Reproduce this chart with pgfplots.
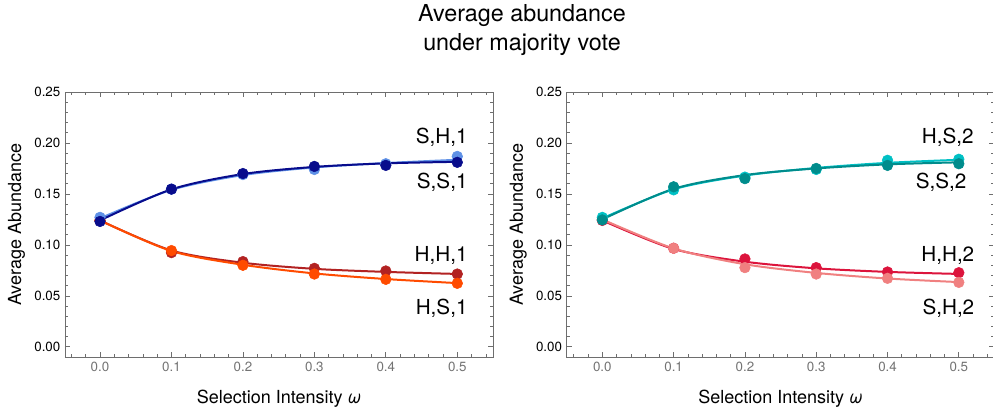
\documentclass[border=0pt]{standalone}
\usepackage{pgfplots}
\pgfplotsset{compat=1.18}
\usepackage{fontspec}
\setmainfont{TeX Gyre Heros}
\definecolor{cSH}{RGB}{95,145,230}
\definecolor{cSS}{RGB}{8,12,140}
\definecolor{cHH}{RGB}{178,34,34}
\definecolor{cHS}{RGB}{255,75,0}
\definecolor{cHS2}{RGB}{0,192,196}
\definecolor{cSS2}{RGB}{0,140,140}
\definecolor{cHH2}{RGB}{220,20,60}
\definecolor{cSH2}{RGB}{240,128,128}
\definecolor{frame}{RGB}{110,110,110}
\tikzset{lab/.style={font=\fontsize{15.5}{18}\selectfont, anchor=east, inner sep=0pt}}
\pgfplotsset{
  panel/.style={
    scale only axis,
    height=198.75pt,
    ymin=-0.01, ymax=0.25,
    xtick={-0.1,0,0.1,0.2,0.3,0.4,0.5,0.6},
    ytick={-0.05,0,0.05,0.1,0.15,0.2,0.25},
    xticklabels={,0.0,0.1,0.2,0.3,0.4,0.5,},
    yticklabels={,0.00,0.05,0.10,0.15,0.20,0.25},
    minor x tick num=4, minor y tick num=4,
    tick align=inside,
    major tick length=4pt, minor tick length=2.4pt,
    axis line style={frame, line width=0.6pt},
    every tick/.style={frame, line width=0.5pt},
    xticklabel style={font=\fontsize{10}{12}\selectfont, text=black!55},
    yticklabel style={font=\fontsize{10}{12}\selectfont, text=black},
    /pgf/number format/assume math mode=true,
    xlabel={Selection Intensity \textit{ω}},
    ylabel={Average Abundance},
    xlabel style={font=\fontsize{13.5}{16}\selectfont, at={(axis description cs:0.5,-0.158)}, anchor=center},
    ylabel style={font=\fontsize{13.5}{16}\selectfont, at={(axis description cs:-0.113,0.5)}, anchor=center, rotate=0},
    clip=false,
  },
  fitline/.style={line width=1.5pt, smooth, no marks},
  dots/.style={only marks, mark=*, mark size=4pt},
}
\begin{document}
\begin{tikzpicture}
\useasboundingbox (0,0) rectangle (744.75pt,-310.5pt);
\node[align=center, font=\fontsize{17.5}{21.75}\selectfont] at (391.5pt,-22.9pt) {Average abundance\\under majority vote};
% ---------- left panel
\begin{axis}[panel, at={(48.75pt,-267.75pt)}, anchor=south west, width=321pt, xmin=-0.049, xmax=0.55]
% H,H,1
\addplot[fitline, cHH] coordinates {(0,0.124) (0.1,0.0945) (0.2,0.0825) (0.3,0.0765) (0.4,0.0735) (0.5,0.0715)};
\addplot[dots, cHH] coordinates {(0,0.124) (0.1,0.0924) (0.2,0.0836) (0.3,0.0770) (0.4,0.0744) (0.5,0.0714)};
% H,S,1
\addplot[fitline, cHS] coordinates {(0,0.124) (0.1,0.0940) (0.2,0.0805) (0.3,0.0720) (0.4,0.0665) (0.5,0.0625)};
\addplot[dots, cHS] coordinates {(0,0.124) (0.1,0.0944) (0.2,0.0800) (0.3,0.0714) (0.4,0.0662) (0.5,0.0623)};
% S,H,1
\addplot[fitline, cSH] coordinates {(0,0.126) (0.1,0.1540) (0.2,0.1685) (0.3,0.1760) (0.4,0.1803) (0.5,0.1835)};
\addplot[dots, cSH] coordinates {(0,0.127) (0.1,0.1547) (0.2,0.1690) (0.3,0.1740) (0.4,0.1796) (0.5,0.1868)};
% S,S,1
\addplot[fitline, cSS] coordinates {(0,0.124) (0.1,0.1545) (0.2,0.1695) (0.3,0.1765) (0.4,0.1800) (0.5,0.1815)};
\addplot[dots, cSS] coordinates {(0,0.123) (0.1,0.1547) (0.2,0.1700) (0.3,0.1770) (0.4,0.1780) (0.5,0.1810)};
\node[lab] at (axis cs:0.5147,0.206) {S,H,1};
\node[lab] at (axis cs:0.5147,0.1618) {S,S,1};
\node[lab] at (axis cs:0.5147,0.090) {H,H,1};
\node[lab] at (axis cs:0.5147,0.038) {H,S,1};
\end{axis}
% ---------- right panel
\begin{axis}[panel, at={(425pt,-267.75pt)}, anchor=south west, width=320.85pt, xmin=-0.05, xmax=0.55]
% H,H,2
\addplot[fitline, cHH2] coordinates {(0,0.124) (0.1,0.0960) (0.2,0.0835) (0.3,0.0770) (0.4,0.0735) (0.5,0.0715)};
\addplot[dots, cHH2] coordinates {(0,0.124) (0.1,0.0967) (0.2,0.0862) (0.3,0.0777) (0.4,0.0734) (0.5,0.0727)};
% S,H,2
\addplot[fitline, cSH2] coordinates {(0,0.125) (0.1,0.0965) (0.2,0.0810) (0.3,0.0725) (0.4,0.0670) (0.5,0.0635)};
\addplot[dots, cSH2] coordinates {(0,0.125) (0.1,0.0967) (0.2,0.0777) (0.3,0.0714) (0.4,0.0672) (0.5,0.0632)};
% H,S,2
\addplot[fitline, cHS2] coordinates {(0,0.126) (0.1,0.1545) (0.2,0.1680) (0.3,0.1755) (0.4,0.1805) (0.5,0.1835)};
\addplot[dots, cHS2] coordinates {(0,0.127) (0.1,0.1540) (0.2,0.1665) (0.3,0.1740) (0.4,0.1830) (0.5,0.1840)};
% S,S,2
\addplot[fitline, cSS2] coordinates {(0,0.125) (0.1,0.1550) (0.2,0.1685) (0.3,0.1750) (0.4,0.1790) (0.5,0.1810)};
\addplot[dots, cSS2] coordinates {(0,0.1245) (0.1,0.1570) (0.2,0.1650) (0.3,0.1750) (0.4,0.1780) (0.5,0.1796)};
\node[lab] at (axis cs:0.521,0.206) {H,S,2};
\node[lab] at (axis cs:0.511,0.1618) {S,S,2};
\node[lab] at (axis cs:0.522,0.090) {H,H,2};
\node[lab] at (axis cs:0.522,0.038) {S,H,2};
\end{axis}
\end{tikzpicture}
\end{document}
